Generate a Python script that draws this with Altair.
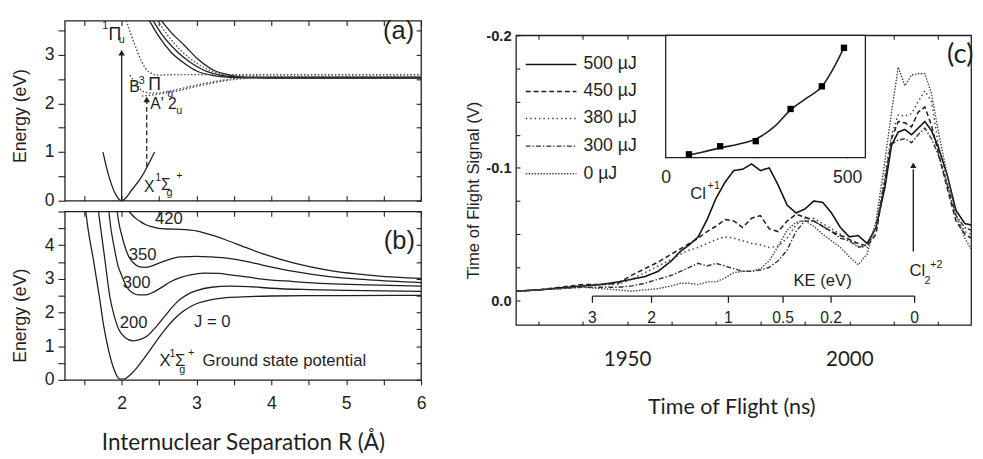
import altair as alt
import pandas as pd

FONT = "Liberation Sans"
HUM = "Lato"
INK = "#1f1f1f"
GREY = "#4a4a4a"

# ---------------- shared R axis for panels (a) and (b) ----------------
R_DOMAIN = [1.24, 6.0]
R_TICKS = [1.5, 2.0, 2.5, 3.0, 3.5, 4.0, 4.5, 5.0, 5.5, 6.0]
R_LABELS = [2, 3, 4, 5, 6]

# ---------------- panel (a): Cl2 potential curves ----------------
A_E_DOMAIN = [0.0, 3.7]
A_E_TICKS = [0.0, 0.5, 1.0, 1.5, 2.0, 2.5, 3.0, 3.5]
A_E_LABELS = [0, 1, 2, 3]

a_ground_R = [1.75, 1.83, 1.92, 2.0, 2.14, 2.27, 2.44]
a_ground_E = [1.0, 0.5, 0.13, 0.0, 0.23, 0.5, 1.0]
a_s1_R = [2.37, 2.49, 2.66, 2.84, 3.01, 3.23, 3.53, 4.0, 6.0]
a_s1_E = [3.7, 3.39, 3.05, 2.82, 2.66, 2.57, 2.53, 2.52, 2.52]
a_s2_R = [2.42, 2.55, 2.75, 2.92, 3.10, 3.32, 3.58, 4.0, 6.0]
a_s2_E = [3.7, 3.39, 3.05, 2.84, 2.68, 2.58, 2.54, 2.53, 2.53]
a_s3_R = [2.53, 2.66, 2.84, 3.01, 3.23, 3.45, 3.62, 4.0, 6.0]
a_s3_E = [3.7, 3.46, 3.19, 2.92, 2.68, 2.58, 2.54, 2.53, 2.53]
a_d1_R = [2.48, 2.62, 2.79, 3.01, 3.23, 3.53, 4.0, 6.0]
a_d1_E = [3.7, 3.39, 3.09, 2.82, 2.65, 2.57, 2.56, 2.56]
a_pi_R = [2.06, 2.18, 2.27, 2.36, 2.49, 2.7, 6.0]
a_pi_E = [3.7, 3.19, 2.85, 2.65, 2.58, 2.59, 2.59]
a_b_R = [2.11, 2.2, 2.31, 2.44, 2.66, 3.01, 3.36, 3.66, 4.2, 6.0]
a_b_E = [2.58, 2.38, 2.23, 2.21, 2.26, 2.38, 2.48, 2.53, 2.55, 2.55]
a_a_R = [2.27, 2.4, 2.66, 3.01, 3.36, 3.71, 4.2, 6.0]
a_a_E = [2.15, 2.17, 2.23, 2.35, 2.46, 2.52, 2.54, 2.54]

a_arrow_R = [2.0, 2.335]
a_arrow_E0 = [0.0, 0.70]
a_arrow_E1 = [3.0, 2.03]
a_arrow_head_E = [3.04, 2.08]
a_arrow_style = ["solid", "dashed"]

a_txt = ["1", "\u03a0", "u", "B", "3", "\u03a0", "u", "A' 2", "u", "X", "1", "\u03a3", "g", "+", "(a)"]
a_txt_R = [1.78, 1.91, 2.0, 2.17, 2.27, 2.44, 2.65, 2.56, 2.77, 2.37, 2.49, 2.59, 2.64, 2.77, 5.7]
a_txt_E = [3.58, 3.40, 3.30, 2.34, 2.46, 2.37, 2.20, 1.99, 1.85, 0.29, 0.46, 0.33, 0.16, 0.50, 3.48]
a_txt_fs = [11, 18, 11, 16, 11, 18, 11, 16, 11, 16, 11, 16, 11, 11, 26]

# ---------------- panel (b): rotationally shifted potentials ----------------
B_E_DOMAIN = [0.0, 5.0]
B_E_TICKS = [0.0, 0.5, 1.0, 1.5, 2.0, 2.5, 3.0, 3.5, 4.0, 4.5, 5.0]
B_E_LABELS = [0, 1, 2, 3, 4]

b_j0_R = [1.52, 1.55, 1.62, 1.70, 1.76, 1.83, 1.90, 1.97, 2.03, 2.1, 2.2, 2.3, 2.4, 2.5, 2.6, 2.7, 2.8, 2.9, 3.0, 3.2, 3.4, 3.7, 4.0, 4.5, 5.0, 6.0]
b_j0_E = [5.0, 4.5, 3.6, 2.5, 1.6, 0.84, 0.3, 0.03, 0.02, 0.12, 0.35, 0.64, 0.95, 1.26, 1.55, 1.80, 2.0, 2.15, 2.26, 2.38, 2.44, 2.47, 2.49, 2.5, 2.5, 2.51]
b_j200_R = [1.69, 1.72, 1.78, 1.84, 1.90, 1.96, 2.05, 2.15, 2.25, 2.35, 2.45, 2.58, 2.7, 2.8, 2.9, 3.0, 3.2, 3.45, 3.7, 4.0, 4.5, 5.0, 5.5, 6.0]
b_j200_E = [5.0, 4.5, 3.5, 2.5, 1.9, 1.5, 1.25, 1.16, 1.2, 1.32, 1.55, 1.9, 2.22, 2.42, 2.56, 2.65, 2.75, 2.78, 2.77, 2.72, 2.68, 2.66, 2.64, 2.63]
b_j300_R = [1.83, 1.85, 1.90, 1.95, 2.0, 2.07, 2.15, 2.23, 2.32, 2.40, 2.5, 2.66, 2.8, 2.92, 3.1, 3.3, 3.45, 3.7, 3.88, 4.3, 4.75, 5.3, 6.0]
b_j300_E = [5.0, 4.6, 3.94, 3.4, 3.1, 2.75, 2.58, 2.52, 2.52, 2.58, 2.7, 2.92, 3.05, 3.12, 3.17, 3.16, 3.12, 3.05, 2.99, 2.92, 2.86, 2.82, 2.78]
b_j350_R = [1.94, 1.96, 2.01, 2.06, 2.10, 2.16, 2.23, 2.31, 2.4, 2.49, 2.6, 2.79, 3.01, 3.2, 3.45, 3.7, 3.88, 4.3, 4.75, 5.3, 6.0]
b_j350_E = [5.0, 4.7, 4.22, 3.85, 3.64, 3.47, 3.36, 3.34, 3.38, 3.46, 3.55, 3.65, 3.67, 3.65, 3.6, 3.5, 3.41, 3.22, 3.07, 2.97, 2.89]
b_j420_R = [2.10, 2.18, 2.25, 2.31, 2.4, 2.49, 2.6, 2.79, 3.01, 3.23, 3.53, 3.88, 4.32, 4.75, 5.41, 6.0]
b_j420_E = [5.0, 4.81, 4.7, 4.62, 4.55, 4.5, 4.48, 4.47, 4.42, 4.28, 4.04, 3.75, 3.46, 3.26, 3.09, 3.01]

b_txt = ["420", "350", "300", "200", "J = 0", "X", "1", "\u03a3", "g", "+", "(b)"]
b_txt_R = [2.63, 2.28, 2.20, 2.16, 3.21, 2.58, 2.68, 2.78, 2.81, 2.93, 5.71]
b_txt_E = [4.76, 3.70, 2.86, 1.69, 1.71, 0.55, 0.76, 0.55, 0.30, 0.79, 4.13]
b_txt_fs = [17, 17, 17, 17, 17, 17, 11, 17, 11, 11, 26]
b_note = ["Ground state potential"]
b_note_R = [3.08]
b_note_E = [0.55]

# ---------------- panel (c): time-of-flight traces ----------------
C_X_DOMAIN = [1925, 2027.4]
C_Y_DOMAIN = [-0.2, 0.0185]
C_X_TICKS = [1930, 1940, 1950, 1960, 1970, 1980, 1990, 2000, 2010, 2020]
C_X_LABELS = [1950, 2000]
C_Y_TICKS = [-0.2, -0.175, -0.15, -0.125, -0.1, -0.075, -0.05, -0.025, 0.0]
C_Y_LABELS = [-0.2, -0.1, 0.0]
C_Y_LABEL_TEXT = ["-0.2", "-0.1", "0.0"]

tof_ns = [1925, 1930, 1935, 1940, 1944, 1948, 1951, 1954, 1957, 1960,
          1962, 1964, 1966, 1968, 1970, 1972, 1974, 1976, 1978, 1980,
          1982, 1984, 1986, 1988, 1990, 1992, 1994, 1996, 1998, 2000,
          2002, 2004, 2006, 2008, 2009.5, 2011, 2012.5, 2014, 2015.5, 2017,
          2018.5, 2020, 2022, 2024, 2026, 2027.4]
sig_500 = [-0.007, -0.008, -0.0095, -0.011, -0.012, -0.014, -0.016, -0.018, -0.022, -0.030,
           -0.037, -0.042, -0.048, -0.061, -0.077, -0.089, -0.098, -0.099, -0.103, -0.098,
           -0.100, -0.087, -0.072, -0.066, -0.069, -0.075, -0.074, -0.066, -0.055, -0.048,
           -0.049, -0.043, -0.055, -0.085, -0.117, -0.127, -0.129, -0.125, -0.130, -0.135,
           -0.128, -0.116, -0.095, -0.068, -0.058, -0.057]
sig_450 = [-0.007, -0.008, -0.010, -0.012, -0.012, -0.013, -0.019, -0.024, -0.029, -0.035,
           -0.039, -0.043, -0.047, -0.052, -0.056, -0.061, -0.060, -0.055, -0.062, -0.064,
           -0.054, -0.052, -0.060, -0.065, -0.063, -0.060, -0.056, -0.052, -0.049, -0.046,
           -0.043, -0.041, -0.050, -0.090, -0.122, -0.135, -0.134, -0.131, -0.142, -0.146,
           -0.132, -0.112, -0.085, -0.060, -0.050, -0.047]
sig_380 = [-0.007, -0.008, -0.009, -0.011, -0.012, -0.012, -0.016, -0.021, -0.026, -0.031,
           -0.035, -0.038, -0.040, -0.043, -0.046, -0.048, -0.047, -0.045, -0.043, -0.042,
           -0.040, -0.041, -0.047, -0.057, -0.062, -0.062, -0.058, -0.054, -0.050, -0.046,
           -0.041, -0.040, -0.055, -0.095, -0.125, -0.140, -0.139, -0.141, -0.150, -0.158,
           -0.150, -0.118, -0.088, -0.062, -0.052, -0.050]
sig_300 = [-0.007, -0.008, -0.009, -0.010, -0.010, -0.010, -0.011, -0.013, -0.016, -0.019,
           -0.022, -0.025, -0.028, -0.026, -0.028, -0.026, -0.024, -0.022, -0.022, -0.023,
           -0.025, -0.030, -0.038, -0.052, -0.060, -0.060, -0.056, -0.052, -0.047, -0.045,
           -0.040, -0.042, -0.055, -0.090, -0.118, -0.121, -0.122, -0.119, -0.125, -0.130,
           -0.122, -0.110, -0.088, -0.064, -0.055, -0.053]
sig_0 = [-0.007, -0.008, -0.009, -0.010, -0.009, -0.008, -0.007, -0.008, -0.009, -0.011,
         -0.013, -0.013, -0.012, -0.014, -0.014, -0.017, -0.021, -0.022, -0.022, -0.024,
         -0.030, -0.041, -0.053, -0.059, -0.060, -0.056, -0.050, -0.045, -0.040, -0.033,
         -0.027, -0.035, -0.060, -0.105, -0.142, -0.176, -0.162, -0.170, -0.171, -0.171,
         -0.156, -0.128, -0.095, -0.065, -0.047, -0.039]

pulse_names = ["500 \u00b5J", "450 \u00b5J", "380 \u00b5J", "300 \u00b5J", "0 \u00b5J"]
pulse_dash = [[1, 0], [5, 3], [1.5, 3], [5, 2, 1.5, 2], [1.5, 1.5]]
pulse_color = ["#111111", "#1f1f1f", "#444444", "#333333", "#444444"]
pulse_width = [1.6, 1.4, 1.4, 1.4, 1.4]

leg_x0 = 1927.2
leg_x1 = 1938.6
leg_text_x = 1940.2
leg_y = [-0.178, -0.1576, -0.1373, -0.1164, -0.0956]

ke_labels = ["3", "2", "1", "0.5", "0.2", "0"]
ke_tof = [1942.2, 1955.5, 1972.8, 1985.1, 1995.9, 2014.7]
ke_line_y = -0.0033
ke_tick_end = 0.0017
ke_label_y = 0.0135

c_txt = ["Cl", "+1", "KE (eV)", "Cl", "2", "+2"]
c_txt_x = [1966.0, 1969.5, 1994.0, 2015.3, 2017.6, 2019.6]
c_txt_y = [-0.080, -0.086, -0.0147, -0.022, -0.0145, -0.0265]
c_txt_fs = [17, 11, 17, 17, 11, 11]
c_panel_tag = ["(c)"]
c_panel_tag_x = [2022.0]
c_panel_tag_y = [-0.185]

c_arrow_x = [2014.4]
c_arrow_y0 = [-0.037]
c_arrow_y1 = [-0.099]
c_arrow_head_y = [-0.102]

# inset: Cl+ yield vs pulse energy
INSET_X_DOMAIN = [0, 550]
INSET_Y_DOMAIN = [0, 1]
INSET_X_TICKS = [0, 250, 500]
INSET_X_LABELS = [0, 500]
INSET_Y_TICKS = [0.06, 0.55]
inset_pulse = [64, 150, 248, 344, 430, 491]
inset_yield = [0.027, 0.093, 0.135, 0.398, 0.583, 0.898]
inset_fit_x = [64, 100, 150, 200, 250, 300, 344, 390, 430, 460, 491]
inset_fit_y = [0.022, 0.045, 0.08, 0.11, 0.155, 0.255, 0.39, 0.49, 0.58, 0.72, 0.90]

# ---------------- layout constants ----------------
AB_W = 364
A_H = 184
B_H = 172
C_W = 465
C_H = 296
INSET_X_RANGE = [153, 357]
INSET_Y_RANGE = [125, 0]


def label_map(vals, texts):
    expr = "''"
    for v, t in reversed(list(zip(vals, texts))):
        expr = f"abs(datum.value - ({v})) < 1e-6 ? '{t}' : ({expr})"
    return expr


def sq(domain, **kw):
    return alt.Scale(domain=domain, nice=False, zero=False, **kw)


def long_df(curves):
    rows = []
    for name, (xs, ys) in curves.items():
        for i, (x, y) in enumerate(zip(xs, ys)):
            rows.append({"name": name, "x": x, "y": y, "i": i})
    return pd.DataFrame(rows)


def text_df(texts, xs, ys, fs=None):
    d = {"t": texts, "x": xs, "y": ys}
    d["fs"] = fs if fs is not None else [17] * len(texts)
    return pd.DataFrame(d)


def energy_axis(values, labels, title_y):
    return alt.Axis(orient="left", values=values, labelExpr=label_map(labels, [str(v) for v in labels]),
                    tickSize=7, labelPadding=4, labelFontSize=18, title="Energy (eV)", titleFontSize=18,
                    titlePadding=15, titleY=title_y)


# =========================== panel (a) ===========================
xa = sq(R_DOMAIN)
ya = sq(A_E_DOMAIN)
ax_a_x = alt.Axis(orient="bottom", values=R_TICKS, labels=False, tickSize=5, offset=-5, title=None)
ax_a_y = energy_axis(A_E_TICKS, A_E_LABELS, 97)


def XA(f="x"):
    return alt.X(f"{f}:Q", scale=xa, axis=ax_a_x)


def YA(f="y"):
    return alt.Y(f"{f}:Q", scale=ya, axis=ax_a_y)


a_solid_df = long_df({"ground": (a_ground_R, a_ground_E), "s1": (a_s1_R, a_s1_E),
                      "s2": (a_s2_R, a_s2_E), "s3": (a_s3_R, a_s3_E)})
a_dot_df = long_df({"d1": (a_d1_R, a_d1_E), "pi": (a_pi_R, a_pi_E),
                    "b": (a_b_R, a_b_E), "a": (a_a_R, a_a_E)})
a_arrows = pd.DataFrame({"x": a_arrow_R, "y": a_arrow_E0, "y2": a_arrow_E1,
                         "yh": a_arrow_head_E, "style": a_arrow_style})

a_l_solid = alt.Chart(a_solid_df).mark_line(color=INK, strokeWidth=1.3, clip=True, interpolate="monotone").encode(
    x=XA(), y=YA(), detail="name:N", order="i:Q")
a_l_dot = alt.Chart(a_dot_df).mark_line(color=GREY, strokeWidth=1.4, strokeDash=[1.5, 2], clip=True,
                                        interpolate="monotone").encode(x=XA(), y=YA(), detail="name:N", order="i:Q")
a_ar1 = alt.Chart(a_arrows[a_arrows["style"] == "solid"]).mark_rule(color=INK, strokeWidth=1.3).encode(
    x=XA(), y=YA(), y2="y2:Q")
a_ar2 = alt.Chart(a_arrows[a_arrows["style"] == "dashed"]).mark_rule(color=INK, strokeWidth=1.3,
                                                                      strokeDash=[5, 3]).encode(
    x=XA(), y=YA(), y2="y2:Q")
a_heads = alt.Chart(a_arrows).mark_point(shape="triangle-up", filled=True, size=45, color=INK, opacity=1).encode(
    x=XA(), y=YA("yh"))
a_text = alt.Chart(text_df(a_txt, a_txt_R, a_txt_E, a_txt_fs)).mark_text(
    font=FONT, color=INK, align="center", baseline="middle").encode(
    x=XA(), y=YA(), text="t:N", size=alt.Size("fs:Q", scale=None, legend=None))

a_main = alt.layer(a_l_solid, a_l_dot, a_ar1, a_ar2, a_heads, a_text)
a_mirror = alt.Chart(pd.DataFrame({"x": R_DOMAIN, "y": A_E_DOMAIN})).mark_point(opacity=0, size=1).encode(
    x=alt.X("x:Q", scale=xa, axis=alt.Axis(orient="top", values=R_TICKS, labels=False, tickSize=5, offset=-5, title=None)),
    y=alt.Y("y:Q", scale=ya, axis=alt.Axis(orient="right", values=A_E_TICKS, labels=False, tickSize=5, offset=-5, title=None)))
panel_a = alt.layer(a_main, a_mirror).resolve_scale(x="independent", y="independent").properties(width=AB_W, height=A_H)

# =========================== panel (b) ===========================
xb = sq(R_DOMAIN)
yb = sq(B_E_DOMAIN)
ax_b_x = alt.Axis(orient="bottom", values=R_TICKS, labelExpr=label_map(R_LABELS, [str(v) for v in R_LABELS]),
                  tickSize=5, labelPadding=10, labelFontSize=18, title="Internuclear Separation R (\u00c5)",
                  titleFont=HUM, titleFontSize=23, titlePadding=20)
ax_b_y = energy_axis(B_E_TICKS, B_E_LABELS, 106)


def XB(f="x"):
    return alt.X(f"{f}:Q", scale=xb, axis=ax_b_x)


def YB(f="y"):
    return alt.Y(f"{f}:Q", scale=yb, axis=ax_b_y)


b_df = long_df({"J0": (b_j0_R, b_j0_E), "J200": (b_j200_R, b_j200_E), "J300": (b_j300_R, b_j300_E),
                "J350": (b_j350_R, b_j350_E), "J420": (b_j420_R, b_j420_E)})
b_lines = alt.Chart(b_df).mark_line(color=INK, strokeWidth=1.3, clip=True, interpolate="monotone").encode(
    x=XB(), y=YB(), detail="name:N", order="i:Q")
b_text = alt.Chart(text_df(b_txt, b_txt_R, b_txt_E, b_txt_fs)).mark_text(
    font=FONT, color=INK, align="center", baseline="middle").encode(
    x=XB(), y=YB(), text="t:N", size=alt.Size("fs:Q", scale=None, legend=None))
b_note_l = alt.Chart(text_df(b_note, b_note_R, b_note_E)).mark_text(
    font=FONT, color=INK, align="left", baseline="middle").encode(
    x=XB(), y=YB(), text="t:N", size=alt.Size("fs:Q", scale=None, legend=None))
b_main = alt.layer(b_lines, b_text, b_note_l)
b_mirror = alt.Chart(pd.DataFrame({"x": R_DOMAIN, "y": B_E_DOMAIN})).mark_point(opacity=0, size=1).encode(
    x=alt.X("x:Q", scale=xb, axis=alt.Axis(orient="top", values=R_TICKS, labels=False, tickSize=5, offset=-5, title=None)),
    y=alt.Y("y:Q", scale=yb, axis=alt.Axis(orient="right", values=B_E_TICKS, labels=False, tickSize=5, offset=-5, title=None)))
panel_b = alt.layer(b_main, b_mirror).resolve_scale(x="independent", y="independent").properties(width=AB_W, height=B_H)

# =========================== panel (c) ===========================
xc = sq(C_X_DOMAIN)
yc = sq(C_Y_DOMAIN, reverse=True)
ax_c_x = alt.Axis(orient="bottom", values=C_X_TICKS, labelExpr=label_map(C_X_LABELS, [str(v) for v in C_X_LABELS]),
                  tickSize=4, offset=-4, labelPadding=24, labelFont=HUM, labelFontSize=21,
                  title="Time of Flight (ns)", titleFont=HUM, titleFontSize=22, titlePadding=28, titleX=220)
ax_c_y = alt.Axis(orient="left", values=C_Y_TICKS, labelExpr=label_map(C_Y_LABELS, C_Y_LABEL_TEXT),
                  tickSize=4, offset=-4, labelPadding=5, labelFontSize=15, labelFontWeight="bold",
                  title="Time of Flight Signal (V)", titleFontSize=17, titlePadding=3, titleY=158)


def XC(f="x"):
    return alt.X(f"{f}:Q", scale=xc, axis=ax_c_x)


def YC(f="y"):
    return alt.Y(f"{f}:Q", scale=yc, axis=ax_c_y)


dash_scale = alt.Scale(domain=pulse_names, range=pulse_dash)
color_scale = alt.Scale(domain=pulse_names, range=pulse_color)
width_scale = alt.Scale(domain=pulse_names, range=pulse_width)

c_df = long_df({n: (tof_ns, s) for n, s in zip(pulse_names, [sig_500, sig_450, sig_380, sig_300, sig_0])})
c_df = c_df.rename(columns={"name": "pulse"})
c_lines = alt.Chart(c_df).mark_line(clip=True).encode(
    x=XC(), y=YC(), detail="pulse:N", order="i:Q",
    strokeDash=alt.StrokeDash("pulse:N", scale=dash_scale, legend=None),
    strokeWidth=alt.StrokeWidth("pulse:N", scale=width_scale, legend=None),
    color=alt.Color("pulse:N", scale=color_scale, legend=None))

leg_df = pd.DataFrame({"pulse": pulse_names, "x": [leg_x0] * 5, "x2": [leg_x1] * 5, "y": leg_y,
                       "tx": [leg_text_x] * 5})
c_leg_lines = alt.Chart(leg_df).mark_rule().encode(
    x=XC(), x2="x2:Q", y=YC(),
    strokeDash=alt.StrokeDash("pulse:N", scale=dash_scale, legend=None),
    strokeWidth=alt.StrokeWidth("pulse:N", scale=width_scale, legend=None),
    color=alt.Color("pulse:N", scale=color_scale, legend=None))
c_leg_text = alt.Chart(leg_df).mark_text(font=FONT, fontSize=18, color=INK, align="left", baseline="middle").encode(
    x=XC("tx"), y=YC(), text="pulse:N")

ke_df = pd.DataFrame({"x": ke_tof, "y": [ke_line_y] * len(ke_tof), "y2": [ke_tick_end] * len(ke_tof),
                      "ly": [ke_label_y] * len(ke_tof), "t": ke_labels})
ke_line_df = pd.DataFrame({"x": [ke_tof[0]], "x2": [ke_tof[-1]], "y": [ke_line_y]})
c_ke_line = alt.Chart(ke_line_df).mark_rule(color=INK, strokeWidth=1.3).encode(x=XC(), x2="x2:Q", y=YC())
c_ke_ticks = alt.Chart(ke_df).mark_rule(color=INK, strokeWidth=1.3).encode(x=XC(), y=YC(), y2="y2:Q")
c_ke_text = alt.Chart(ke_df).mark_text(font=FONT, fontSize=16, color=INK, align="center", baseline="middle").encode(
    x=XC(), y=YC("ly"), text="t:N")

c_ann = alt.Chart(text_df(c_txt, c_txt_x, c_txt_y, c_txt_fs)).mark_text(
    font=FONT, color=INK, align="center", baseline="middle").encode(
    x=XC(), y=YC(), text="t:N", size=alt.Size("fs:Q", scale=None, legend=None))
c_tag = alt.Chart(text_df(c_panel_tag, c_panel_tag_x, c_panel_tag_y)).mark_text(
    font=HUM, fontSize=28, color=INK, align="left", baseline="middle").encode(x=XC(), y=YC(), text="t:N")

arrow_df = pd.DataFrame({"x": c_arrow_x, "y": c_arrow_y0, "y2": c_arrow_y1, "yh": c_arrow_head_y})
c_arrow = alt.Chart(arrow_df).mark_rule(color=INK, strokeWidth=1.4).encode(x=XC(), y=YC(), y2="y2:Q")
c_head = alt.Chart(arrow_df).mark_point(shape="triangle-up", filled=True, size=40, color=INK, opacity=1).encode(
    x=XC(), y=YC("yh"))

c_main = alt.layer(c_lines, c_leg_lines, c_leg_text, c_ke_line, c_ke_ticks, c_ke_text, c_ann, c_tag, c_arrow, c_head)

c_mirror = alt.Chart(pd.DataFrame({"x": C_X_DOMAIN, "y": C_Y_DOMAIN})).mark_point(opacity=0, size=1).encode(
    x=alt.X("x:Q", scale=xc, axis=alt.Axis(orient="top", values=C_X_TICKS, labels=False, tickSize=4, offset=-4, title=None)),
    y=alt.Y("y:Q", scale=yc, axis=None))

xi = alt.Scale(domain=INSET_X_DOMAIN, range=INSET_X_RANGE, nice=False, zero=False)
yi = alt.Scale(domain=INSET_Y_DOMAIN, range=INSET_Y_RANGE, nice=False, zero=False)
ax_i_x = alt.Axis(orient="bottom", values=INSET_X_TICKS,
                  labelExpr=label_map(INSET_X_LABELS, [str(v) for v in INSET_X_LABELS]),
                  tickSize=4, offset=-175, labelPadding=11, labelFontSize=18, title=None)
ax_i_y = alt.Axis(orient="right", values=INSET_Y_TICKS, labels=False, tickSize=4, offset=-112, title=None)


def XI(f="x"):
    return alt.X(f"{f}:Q", scale=xi, axis=ax_i_x)


def YI(f="y"):
    return alt.Y(f"{f}:Q", scale=yi, axis=ax_i_y)


inset_frame = alt.Chart(pd.DataFrame({"x": [INSET_X_DOMAIN[0]], "x2": [INSET_X_DOMAIN[1]],
                                      "y": [INSET_Y_DOMAIN[0]], "y2": [INSET_Y_DOMAIN[1]]})).mark_rect(
    fill="white", stroke=INK, strokeWidth=1.3).encode(x=XI(), x2="x2:Q", y=YI(), y2="y2:Q")
inset_fit = alt.Chart(pd.DataFrame({"x": inset_fit_x, "y": inset_fit_y})).mark_line(
    color=INK, strokeWidth=1.6, interpolate="monotone").encode(x=XI(), y=YI())
inset_pts = alt.Chart(pd.DataFrame({"x": inset_pulse, "y": inset_yield})).mark_point(
    shape="square", filled=True, size=42, color="#000000", opacity=1).encode(x=XI(), y=YI())
c_inset = alt.layer(inset_frame, inset_fit, inset_pts)

panel_c = alt.layer(c_main, c_mirror, c_inset).resolve_scale(
    x="independent", y="independent").properties(width=C_W, height=C_H)

# empty spacer that drops panel (c) below the top of panel (a)
spacer = alt.Chart(pd.DataFrame({"x": [0], "y": [0]})).mark_point(opacity=0, size=1).encode(
    x=alt.X("x:Q", axis=None), y=alt.Y("y:Q", axis=None)
).properties(width=C_W, height=5, view=alt.ViewBackground(stroke="transparent"))

left = alt.vconcat(panel_a, panel_b, spacing=11, bounds="flush")
right = alt.vconcat(spacer, panel_c, spacing=10, bounds="flush")
chart = alt.hconcat(left, right, spacing=38).properties(
    padding={"left": 3, "top": 5, "right": 0, "bottom": 0}
).configure_view(stroke=INK, strokeWidth=1.3).configure_axis(
    domain=False, grid=False, labelFont=FONT, titleFont=FONT, labelColor=INK, titleColor=INK,
    tickColor=INK, tickWidth=1.1, labelFontSize=17, titleFontSize=17, titleFontWeight="normal",
    labelFlush=False, labelOverlap=False)

chart.save("out.html", embed_options={"renderer": "svg", "actions": False})
